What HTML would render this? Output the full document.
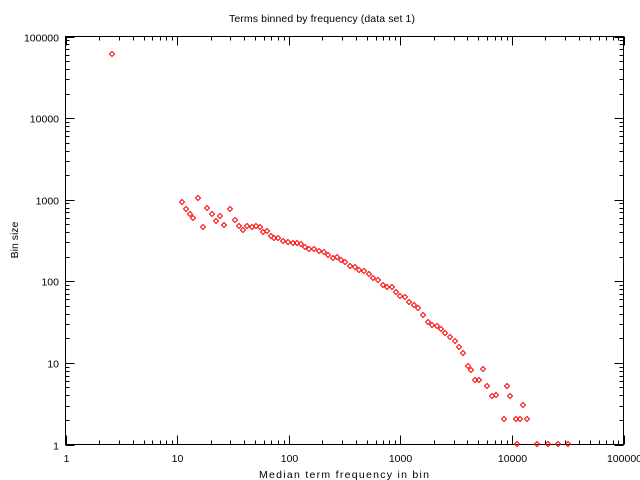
<!DOCTYPE html>
<html><head><style>body{margin:0;background:#fff}svg{display:block}text{font-family:"Liberation Sans",sans-serif;font-size:10.5px;fill:#000}</style></head><body>
<svg width="640" height="480" viewBox="0 0 640 480" xmlns="http://www.w3.org/2000/svg">
<rect x="65.5" y="36.5" width="558" height="408" fill="none" stroke="#000" stroke-width="1"/>
<g id="ticks" stroke="#000" stroke-width="1"></g>
<g id="pts" fill="none" stroke="#f00" stroke-width="1"></g>
<text x="322" y="22" text-anchor="middle" textLength="186" font-size="10">Terms binned by frequency (data set 1)</text>
<text x="344" y="478" text-anchor="middle" textLength="170" font-size="10" y2="0">Median term frequency in bin</text>
<text transform="translate(18,240) rotate(-90)" text-anchor="middle" font-size="10">Bin size</text>
<g id="lbl"></g>
</svg>
<script>
const ns="http://www.w3.org/2000/svg";
const X=v=>65.5+Math.log10(v)*111.6, Y=v=>444.5-Math.log10(v)*81.6;
const t=document.getElementById('ticks'),l=document.getElementById('lbl');
function ln(a,b,c,d){const e=document.createElementNS(ns,'line');e.setAttribute('x1',a);e.setAttribute('y1',b);e.setAttribute('x2',c);e.setAttribute('y2',d);t.appendChild(e);}
function tx(x,y,s,a){const e=document.createElementNS(ns,'text');e.setAttribute('x',x);e.setAttribute('y',y);e.setAttribute('text-anchor',a);e.textContent=s;l.appendChild(e);}
for(let d=0;d<=5;d++){const p=Math.pow(10,d);const s=String(p);
 const x=Math.round(X(p))+0.5,y=Math.round(Y(p))+0.5;
 ln(x,444.5,x,435.5);ln(x,36.5,x,45.5);ln(65.5,y,74.5,y);ln(623.5,y,614.5,y);
 tx(x,462,s,'middle');tx(59,y+4,s,'end');
 if(d<5)for(let k=2;k<10;k++){const xx=Math.round(X(p*k))+0.5,yy=Math.round(Y(p*k))+0.5;
  ln(xx,444.5,xx,440.5);ln(xx,36.5,xx,40.5);ln(65.5,yy,69.5,yy);ln(623.5,yy,619.5,yy);}}
const P=[[112,54],[182,202],[186,209],[190,214],[193,218],[198,198],[203,227],[207,208],[212,214],[216,221],[220,216],[224,225],[230,209],[235,220],[239,226],[243,230],[247,226],[252,227],[256,226],[260,227],[263,232],[267,231],[271,236],[274,238],[278,238],[283,241],[288,242],[293,243],[297,243],[301,244],[305,247],[309,249],[314,249],[319,251],[324,252],[328,255],[333,258],[337,257],[341,260],[345,262],[350,266],[355,267],[359,270],[364,271],[369,274],[373,278],[378,280],[383,285],[387,287],[392,287],[396,292],[400,296],[405,297],[409,302],[414,305],[418,308],[423,315],[428,322],[432,325],[437,326],[441,329],[445,333],[450,337],[455,341],[459,347],[463,353],[468,366],[471,370],[475,380],[479,380],[483,369],[487,386],[492,396],[496,395],[504,419],[507,386],[510,396],[516,419],[520,419],[523,405],[527,419],[517,444],[537,444],[548,444],[558,444],[568,444]];
const g=document.getElementById('pts');
for(const [x,y] of P){const e=document.createElementNS(ns,'path');e.setAttribute('d',`M${x} ${y-2.5}L${x+2.5} ${y}L${x} ${y+2.5}L${x-2.5} ${y}Z`);g.appendChild(e);}
</script>
</body></html>
